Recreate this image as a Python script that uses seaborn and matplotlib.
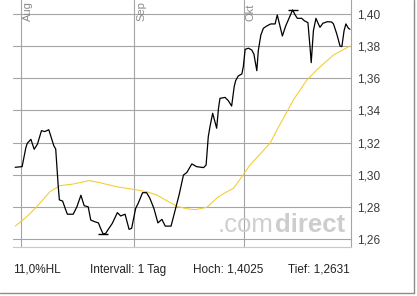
import numpy as np
import pandas as pd
import matplotlib
matplotlib.use("Agg")
import matplotlib.pyplot as plt
from matplotlib.lines import Line2D
import seaborn as sns

# ---- data (days since 1 Aug; value) ----
price_day = [-1.6, 0.3, 1.3, 1.7, 2.7, 3.6, 4.5, 5.6, 6.5, 7.6, 9.0, 9.5, 10.2, 10.5,
             11.4, 12.1, 12.7, 14.3, 15.3, 16.4, 17.3, 18.4, 19.1, 20.1, 21.2, 21.8,
             22.5, 23.2, 23.9, 25.0, 26.4, 27.3, 28.5, 29.6, 30.3, 31.4, 32.1, 33.3,
             34.4, 35.3, 36.4, 37.5, 38.6, 39.5, 41.1, 43.3, 44.5, 45.4, 46.8, 48.1,
             50.0, 50.7, 51.3, 51.8, 52.5, 53.6, 54.1, 54.5, 55.9, 56.8, 57.7, 58.4,
             58.8, 59.5, 60.5, 60.9, 61.4, 62.3, 63.2, 63.8, 64.6, 65.0, 65.7, 66.4,
             67.3, 68.4, 69.6, 70.2, 70.8, 71.6, 72.5, 73.7, 74.4, 75.1, 75.7, 76.9,
             77.6, 78.6, 79.2, 79.5, 80.1, 80.8, 81.3, 81.9, 82.7, 83.9, 85.1, 85.6,
             86.5, 87.4, 87.9, 88.5, 89.0, 89.7, 90.1]
price_val = [1.3046, 1.3050, 1.3166, 1.3195, 1.3220, 1.3158, 1.3190, 1.3274, 1.3268,
             1.3280, 1.3179, 1.3160, 1.2925, 1.2843, 1.2836, 1.2790, 1.2754, 1.2754,
             1.2800, 1.2872, 1.2807, 1.2800, 1.2718, 1.2708, 1.2700, 1.2666, 1.2631,
             1.2635, 1.2660, 1.2697, 1.2764, 1.2743, 1.2754, 1.2660, 1.2666, 1.2790,
             1.2822, 1.2888, 1.2888, 1.2853, 1.2790, 1.2700, 1.2722, 1.2680, 1.2680,
             1.2874, 1.2998, 1.3013, 1.3067, 1.3050, 1.3044, 1.3060, 1.3237, 1.3303,
             1.3382, 1.3289, 1.3413, 1.3475, 1.3481, 1.3460, 1.3427, 1.3548, 1.3585,
             1.3614, 1.3627, 1.3672, 1.3780, 1.3787, 1.3776, 1.3750, 1.3647, 1.3772,
             1.3869, 1.3911, 1.3925, 1.3938, 1.3938, 1.3994, 1.3938, 1.3863, 1.3925,
             1.3988, 1.4025, 1.3994, 1.3973, 1.3973, 1.3958, 1.3946, 1.3787, 1.3697,
             1.3896, 1.3973, 1.3946, 1.3917, 1.3942, 1.3952, 1.3950, 1.3938, 1.3876,
             1.3800, 1.3797, 1.3896, 1.3938, 1.3911, 1.3905]

avg_day = [-1.6, 1.6, 4.3, 7.9, 10.7, 14.3, 18.7, 21.6, 26.2, 30.8, 34.4, 37.2, 39.9,
           43.1, 46.3, 47.9, 50.9, 54.1, 57.3, 58.2, 60.9, 62.7, 68.2, 70.1, 74.6,
           78.3, 81.0, 85.6, 90.1]
avg_val = [1.2680, 1.2739, 1.2800, 1.2894, 1.2932, 1.2942, 1.2963, 1.2950, 1.2925,
           1.2909, 1.2894, 1.2874, 1.2838, 1.2800, 1.2785, 1.2783, 1.2797, 1.2863,
           1.2905, 1.2915, 1.3000, 1.3060, 1.3195, 1.3278, 1.3465, 1.3589, 1.3652,
           1.3745, 1.3800]

month_pos = [0, 31, 61]
month_labels = ["Aug", "Sep", "Okt"]
ytick_vals = [1.26, 1.28, 1.30, 1.32, 1.34, 1.36, 1.38, 1.40]
ytick_labels = ["1,26", "1,28", "1,30", "1,32", "1,34", "1,36", "1,38", "1,40"]
footer = ["11,0%HL", "Intervall: 1 Tag", "Hoch: 1,4025", "Tief: 1,2631"]

# ---- figure ----
sns.set_style("white")
plt.rcParams["font.family"] = ["Liberation Sans", "DejaVu Sans"]

W, H = 417, 296
fig = plt.figure(figsize=(W / 100, H / 100), dpi=100)
fig.patch.set_facecolor("white")
ax = fig.add_axes([13 / W, (H - 247) / H, (351 - 13) / W, 247 / H])
ax.set_facecolor("white")

grid_c = "#a4a4a4"
for v in ytick_vals:
    ax.axhline(v, color=grid_c, lw=0.8, zorder=1)
for m in month_pos:
    ax.axvline(m, color=grid_c, lw=0.8, zorder=1)

df_p = pd.DataFrame({"day": price_day, "val": price_val})
df_a = pd.DataFrame({"day": avg_day, "val": avg_val})
sns.lineplot(data=df_a, x="day", y="val", ax=ax, color="#f2cc2a", lw=0.75,
             estimator=None, sort=False, zorder=2)
sns.lineplot(data=df_p, x="day", y="val", ax=ax, color="black", lw=0.9,
             estimator=None, sort=False, zorder=3)

# high / low markers
ih = int(np.argmax(price_val))
il = int(np.argmin(price_val))
ax.plot([price_day[ih], price_day[il]], [price_val[ih], price_val[il]],
        ls="none", marker="_", ms=7.5, mew=1.0, color="black", zorder=4)

ax.set_xlim(-2.2, 90.4)
ax.set_ylim(1.2550, 1.4087)
ax.set_xlabel("")
ax.set_ylabel("")
ax.set_xticks([])
ax.yaxis.tick_right()
ax.set_yticks(ytick_vals)
ax.set_yticklabels(ytick_labels)
ax.tick_params(axis="y", length=0, pad=4.5, labelsize=8.6, labelcolor="#3c3c3c")

for s in ["top", "left"]:
    ax.spines[s].set_visible(False)
ax.spines["right"].set_color(grid_c)
ax.spines["right"].set_linewidth(0.8)
ax.spines["bottom"].set_color("#c8c8c8")
ax.spines["bottom"].set_linewidth(0.8)

# month labels (rotated, at top)
for m, lab in zip(month_pos, month_labels):
    ax.annotate(lab, xy=(m, 1.0), xycoords=("data", "axes fraction"),
                xytext=(2, -21), textcoords="offset pixels",
                rotation=90, ha="left", va="bottom", fontsize=8.0,
                color="#8a8a8a", annotation_clip=False)

# watermark
fig.text(218 / W, (H - 232) / H, ".com", fontsize=18.5, color="#cfcfcf",
         ha="left", va="baseline")
fig.text(345 / W, (H - 232) / H, "direct", fontsize=18.5, color="#cdcdcd",
         ha="right", va="baseline", fontweight="bold")

# footer
for x, t in zip([13, 90, 193, 288], footer):
    fig.text(x / W, (H - 270) / H, t, fontsize=8.5, color="#222222",
             ha="left", va="center")

# outer border (right, bottom)
fig.add_artist(Line2D([413.5 / W, 413.5 / W], [(H - 292.5) / H, 1.0],
                      transform=fig.transFigure, color="#8c8c8c", lw=1.0))
fig.add_artist(Line2D([0, 414 / W], [(H - 292.5) / H, (H - 292.5) / H],
                      transform=fig.transFigure, color="#8c8c8c", lw=1.0))

fig.savefig("out.png", dpi=100, facecolor="white")
